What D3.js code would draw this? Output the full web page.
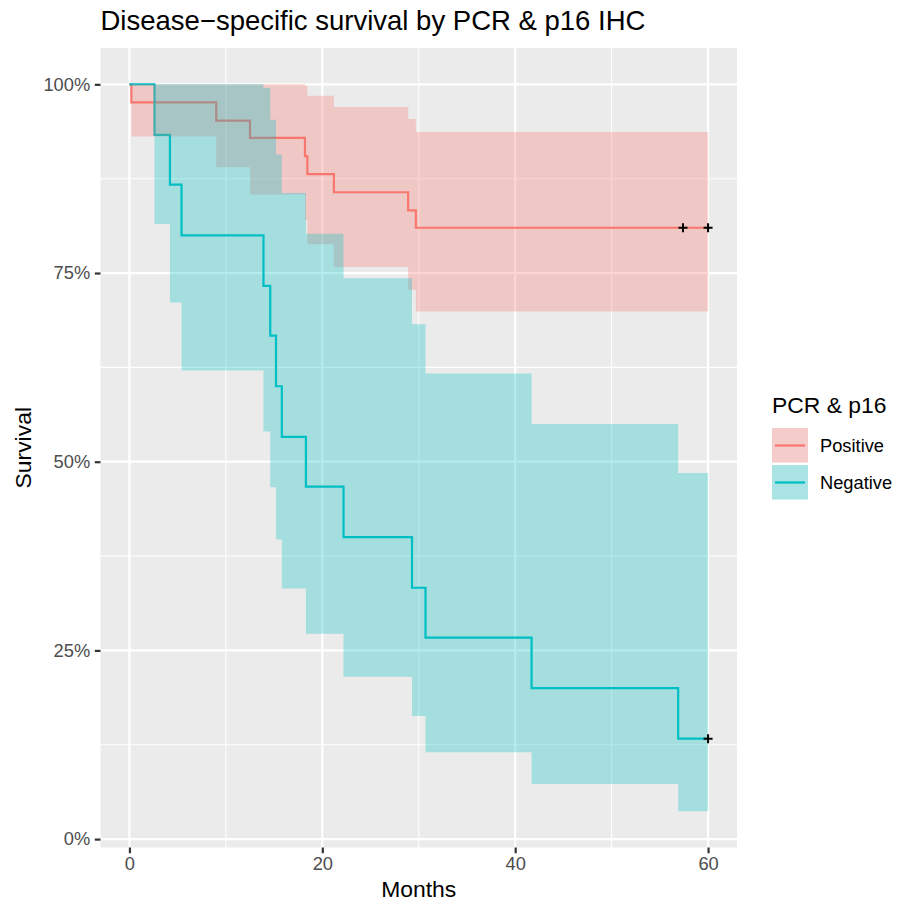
<!DOCTYPE html>
<html>
<head>
<meta charset="utf-8">
<script src="https://cdn.jsdelivr.net/npm/d3@7"></script>
<style>
  body { margin: 0; background: #fff; }
  text { font-family: "Liberation Sans", Arial, Helvetica, sans-serif; }
</style>
</head>
<body>
<div id="chart"></div>
<script>
const WIDTH = 899, HEIGHT = 908;
const PANEL = { LEFT: 100.5, RIGHT: 737, TOP: 48, BOTTOM: 847.5 };

// Kaplan-Meier estimates
const groups = ["Positive", "Negative"];
const colors = ["#F8766D", "#00BFC4"];

const posTime  = [0, 0.2, 9.0, 12.5, 18.2, 18.45, 21.2, 28.9, 29.7, 60];
const posSurv  = [1, 0.976, 0.952, 0.929, 0.905, 0.881, 0.857, 0.833, 0.810, 0.810];
const posUpper = [1, 1, 1, 1, 0.998, 0.985, 0.970, 0.954, 0.937, 0.937];
const posLower = [1, 0.931, 0.890, 0.854, 0.820, 0.788, 0.758, 0.728, 0.699, 0.699];
const posCensor = [57.4, 60];

const negTime  = [0, 2.6, 4.2, 5.4, 13.9, 14.6, 15.2, 15.8, 18.3, 22.2, 29.3, 30.7, 41.7, 56.9, 60];
const negSurv  = [1, 0.933, 0.867, 0.800, 0.733, 0.667, 0.600, 0.533, 0.467, 0.400, 0.333, 0.267, 0.200, 0.133, 0.133];
const negUpper = [1, 1, 1, 1, 0.995, 0.953, 0.907, 0.856, 0.802, 0.743, 0.682, 0.617, 0.550, 0.485, 0.485];
const negLower = [1, 0.815, 0.711, 0.621, 0.540, 0.466, 0.397, 0.332, 0.272, 0.215, 0.163, 0.115, 0.073, 0.037, 0.037];
const negCensor = [60];

const xTicks = [0, 20, 40, 60];
const xMinor = [10, 30, 50];
const yTicks = [0, 0.25, 0.5, 0.75, 1];
const yMinor = [0.125, 0.375, 0.625, 0.875];

const series = [
    { name: "Positive", time: posTime, surv: posSurv, upper: posUpper, lower: posLower, censor: posCensor },
    { name: "Negative", time: negTime, surv: negSurv, upper: negUpper, lower: negLower, censor: negCensor }
].map((s, i) => ({
    ...s,
    color: colors[i],
    points: s.time.map((t, j) => ({ t, s: s.surv[j], hi: s.upper[j], lo: s.lower[j] }))
}));

const svg = d3.select("#chart").append("svg")
    .attr("width", WIDTH)
    .attr("height", HEIGHT);

// Scales (ggplot-like 5% expansion)
const xLo = 0, xHi = 60;
const xPad = (xHi - xLo) * 0.05;
const xScale = d3.scaleLinear()
    .domain([xLo - xPad, xHi + xPad])
    .range([PANEL.LEFT, PANEL.RIGHT]);

const yMin = d3.min(series, s => d3.min(s.lower)), yMax = 1;
const yPad = (yMax - yMin) * 0.05;
const yScale = d3.scaleLinear()
    .domain([yMin - yPad, yMax + yPad])
    .range([PANEL.BOTTOM, PANEL.TOP]);

// Panel background + grid
svg.append("rect")
    .attr("x", PANEL.LEFT).attr("y", PANEL.TOP)
    .attr("width", PANEL.RIGHT - PANEL.LEFT)
    .attr("height", PANEL.BOTTOM - PANEL.TOP)
    .attr("fill", "#EBEBEB");

const grid = svg.append("g").attr("stroke", "#fff");
grid.selectAll(".xminor").data(xMinor).join("line")
    .attr("x1", d => xScale(d)).attr("x2", d => xScale(d))
    .attr("y1", PANEL.TOP).attr("y2", PANEL.BOTTOM)
    .attr("stroke-width", 1.1);
grid.selectAll(".yminor").data(yMinor).join("line")
    .attr("y1", d => yScale(d)).attr("y2", d => yScale(d))
    .attr("x1", PANEL.LEFT).attr("x2", PANEL.RIGHT)
    .attr("stroke-width", 1.1);
grid.selectAll(".xmajor").data(xTicks).join("line")
    .attr("x1", d => xScale(d)).attr("x2", d => xScale(d))
    .attr("y1", PANEL.TOP).attr("y2", PANEL.BOTTOM)
    .attr("stroke-width", 2.2);
grid.selectAll(".ymajor").data(yTicks).join("line")
    .attr("y1", d => yScale(d)).attr("y2", d => yScale(d))
    .attr("x1", PANEL.LEFT).attr("x2", PANEL.RIGHT)
    .attr("stroke-width", 2.2);

// Step lines first, ribbons drawn over them (as in the original)
const line = d3.line()
    .x(d => xScale(d.t))
    .y(d => yScale(d.s))
    .curve(d3.curveStepAfter);

const band = d3.area()
    .x(d => xScale(d.t))
    .y0(d => yScale(d.lo))
    .y1(d => yScale(d.hi))
    .curve(d3.curveStepAfter);

svg.append("g").selectAll("path")
    .data(series)
    .join("path")
    .attr("d", d => line(d.points))
    .attr("fill", "none")
    .attr("stroke", d => d.color)
    .attr("stroke-width", 2.2);

svg.append("g").selectAll("path")
    .data(series)
    .join("path")
    .attr("d", d => band(d.points))
    .attr("fill", d => d.color)
    .attr("fill-opacity", 0.3);

// Censor marks
const censors = series.flatMap(s => s.censor.map(t => {
    const i = d3.bisectRight(s.time, t) - 1;
    return { t, s: s.surv[i] };
}));
svg.append("g").selectAll("path")
    .data(censors)
    .join("path")
    .attr("transform", d => `translate(${xScale(d.t)},${yScale(d.s)})`)
    .attr("d", "M-4.5,0H4.5M0,-4.5V4.5")
    .attr("stroke", "#000")
    .attr("stroke-width", 2);

// Axes
const xAxis = svg.append("g")
    .attr("transform", `translate(0,${PANEL.BOTTOM})`)
    .call(d3.axisBottom(xScale).tickValues(xTicks).tickSize(5.7).tickPadding(4))
    .call(g => g.select(".domain").remove());
xAxis.selectAll("line").attr("stroke", "#333").attr("stroke-width", 2.2);
xAxis.selectAll("text").attr("fill", "#4D4D4D").style("font-size", "18.3px")
    .style("font-family", "Liberation Sans, Arial, sans-serif");

const yAxis = svg.append("g")
    .attr("transform", `translate(${PANEL.LEFT},0)`)
    .call(d3.axisLeft(yScale).tickValues(yTicks).tickFormat(d3.format(".0%")).tickSize(5.7).tickPadding(4.6))
    .call(g => g.select(".domain").remove());
yAxis.selectAll("line").attr("stroke", "#333").attr("stroke-width", 2.2);
yAxis.selectAll("text").attr("fill", "#4D4D4D").style("font-size", "18.3px")
    .style("font-family", "Liberation Sans, Arial, sans-serif");

// Titles
svg.append("text")
    .attr("x", PANEL.LEFT)
    .attr("y", 30)
    .style("font-size", "27.5px")
    .text("Disease\u2212specific survival by PCR & p16 IHC");

svg.append("text")
    .attr("x", (PANEL.LEFT + PANEL.RIGHT) / 2)
    .attr("y", 897)
    .attr("text-anchor", "middle")
    .style("font-size", "22.9px")
    .text("Months");

svg.append("text")
    .attr("transform", `translate(31,${(PANEL.TOP + PANEL.BOTTOM) / 2}) rotate(-90)`)
    .attr("text-anchor", "middle")
    .style("font-size", "22.9px")
    .text("Survival");

// Legend
const legend = svg.append("g").attr("transform", "translate(772,0)");
legend.append("text")
    .attr("x", 0).attr("y", 413)
    .style("font-size", "22.9px")
    .text("PCR & p16");

const keys = legend.selectAll(".key")
    .data(series)
    .join("g")
    .attr("transform", (d, i) => `translate(0,${428 + i * 37})`);
keys.append("rect")
    .attr("width", 36).attr("height", 34.5)
    .attr("fill", "#F2F2F2");
keys.append("line")
    .attr("x1", 3).attr("x2", 33)
    .attr("y1", 17.5).attr("y2", 17.5)
    .attr("stroke", d => d.color)
    .attr("stroke-width", 2.2);
keys.append("rect")
    .attr("width", 36).attr("height", 34.5)
    .attr("fill", d => d.color)
    .attr("fill-opacity", 0.3);
keys.append("text")
    .attr("x", 48).attr("y", 24)
    .style("font-size", "18.3px")
    .text(d => d.name);
</script>
</body>
</html>
